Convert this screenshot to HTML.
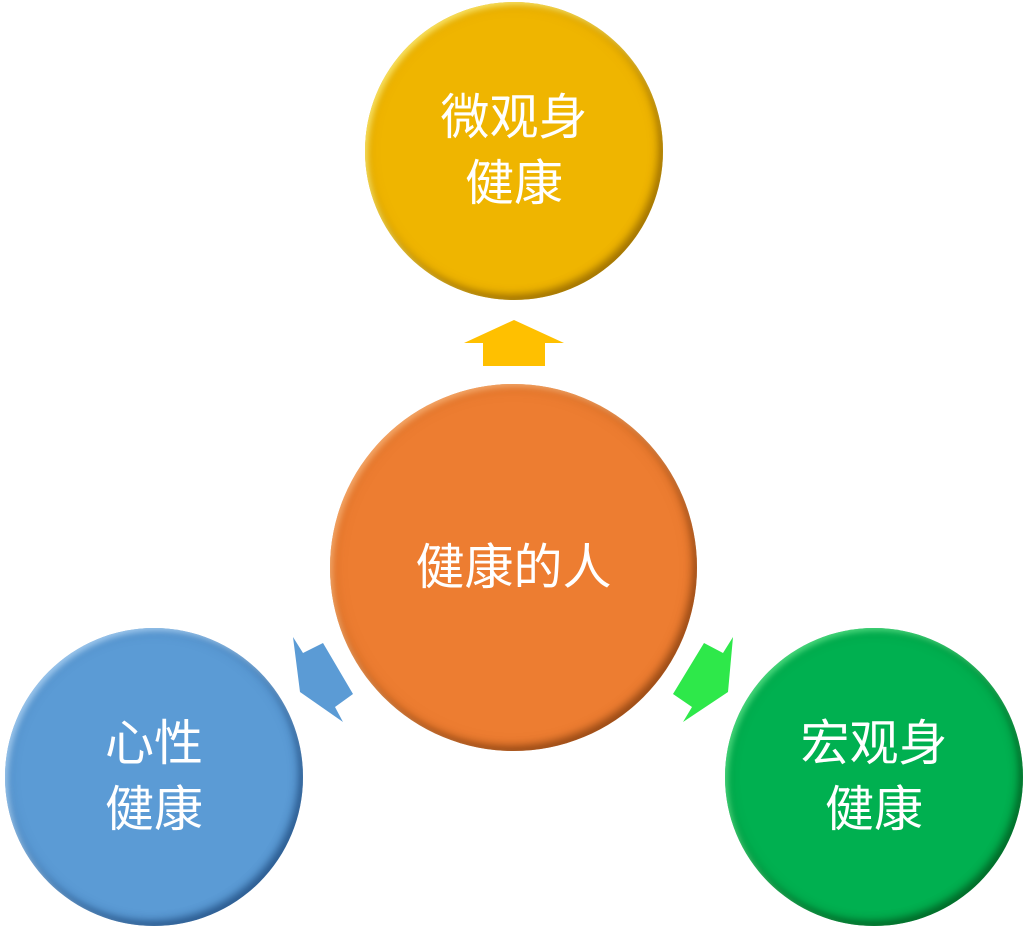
<!DOCTYPE html>
<html><head><meta charset="utf-8"><style>
html,body{margin:0;padding:0;background:#fff;}
body{width:1024px;height:929px;position:relative;overflow:hidden;font-family:"Liberation Sans","Noto Sans CJK SC",sans-serif;}
.c{position:absolute;border-radius:50%;display:flex;align-items:center;justify-content:center;text-align:center;color:#fff;font-size:49px;line-height:66px;}
</style></head><body>
<svg width="1024" height="929" style="position:absolute;left:0;top:0">
<polygon points="514,320 564,343 545,343 545,366 483,366 483,343 464,343" fill="#FFC000"/>
<polygon points="293,637 303,653 323,643 353,694 335,707 343,722 300,692" fill="#5B9BD5"/>
<polygon points="733,637 723,653 704,643 673,694 692,707 683,722 728,692" fill="#2EE84A"/>
</svg>
<div class="c" style="left:365px;top:2px;width:298px;height:298px;background:#EFB500;box-shadow:inset 3px 3px 6px rgba(255,240,120,.8),inset -4px -5px 8px rgba(120,80,0,.6),inset 0 0 14px rgba(150,100,0,.35);">微观身<br>健康</div>
<div class="c" style="left:330px;top:384px;width:367px;height:367px;background:#ED7D31;box-shadow:inset 3px 3px 6px rgba(255,190,130,.7),inset -4px -5px 8px rgba(110,50,10,.6),inset 0 0 16px rgba(140,60,10,.35);">健康的人</div>
<div class="c" style="left:5px;top:628px;width:298px;height:298px;background:#5B9BD5;box-shadow:inset 3px 3px 6px rgba(190,225,255,.7),inset -4px -5px 8px rgba(20,60,110,.6),inset 0 0 14px rgba(30,70,120,.35);">心性<br>健康</div>
<div class="c" style="left:725px;top:628px;width:298px;height:298px;background:#00B050;box-shadow:inset 3px 3px 6px rgba(120,255,160,.6),inset -4px -5px 8px rgba(0,70,20,.6),inset 0 0 14px rgba(0,80,30,.35);">宏观身<br>健康</div>
</body></html>
